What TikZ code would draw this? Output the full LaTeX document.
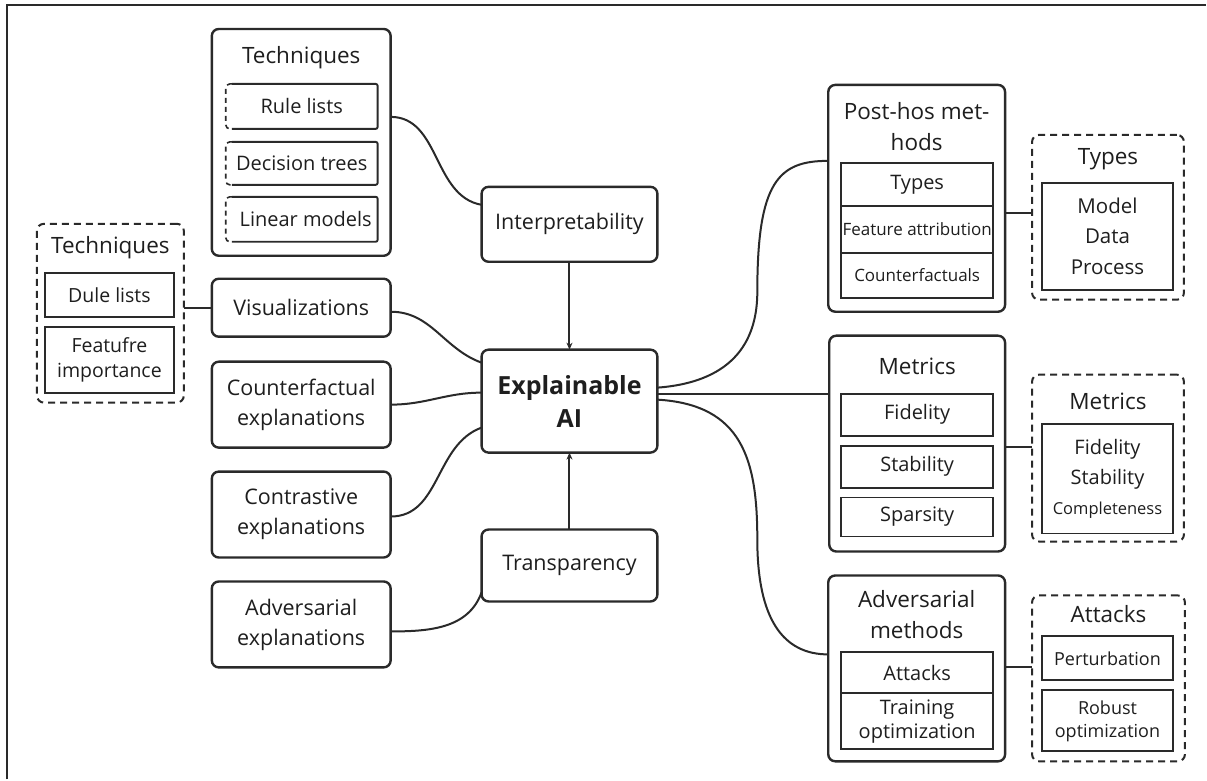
\documentclass[tikz,border=0pt]{standalone}
\usepackage{fontspec}
\setmainfont{Open Sans}
\usetikzlibrary{arrows.meta,calc}
\definecolor{lc}{HTML}{2A2A2A}
\definecolor{tc}{HTML}{1E1E1E}
\newcommand\fmain{\fontsize{21.5}{30}\selectfont}
\newcommand\ftitle{\fontsize{22.5}{31}\selectfont}
\newcommand\fitem{\fontsize{20}{30}\selectfont}
\newcommand\fsmall{\fontsize{17}{22}\selectfont}
\newcommand\fbig{\fontsize{25}{33}\selectfont\bfseries}
\begin{document}
\begin{tikzpicture}[x=1pt,y=-1pt,
  box/.style={draw=lc, line width=2.4pt, rounded corners=7pt, inner sep=0pt, outer sep=0pt, align=center, font=\fmain, text=tc},
  dbox/.style={draw=lc, line width=2pt, dash pattern=on 7pt off 5pt, rounded corners=7pt, inner sep=0pt, outer sep=0pt},
  ibox/.style={draw=lc, line width=1.9pt, inner sep=0pt, outer sep=0pt, align=center, font=\fitem, text=tc},
  hbox/.style={draw=none, inner sep=0pt, outer sep=0pt, align=center, font=\fitem, text=tc},
  ttl/.style={inner sep=0pt, align=center, font=\ftitle, text=tc},
  conn/.style={draw=lc, line width=2pt},
  arr/.style={conn, -{Stealth[length=7pt,width=6pt]}}
]
\path[fill=white] (0,0) rectangle (1207,780);
\draw[lc, line width=2.2pt] (7,780) -- (7,5) -- (1207,5);

% ---------- top techniques ----------
\node[box, minimum width=179pt, minimum height=227pt] (tech1) at (301.5,142.5) {};
\node[ttl] (tech1t) at (301.5,58) {Techniques};
\node[hbox, minimum width=152pt, minimum height=45pt] (r1) at (302,106.5) {Rule lists};
\node[hbox, minimum width=152pt, minimum height=43pt] (r2) at (302,163.5) {Decision trees};
\node[hbox, minimum width=152pt, minimum height=45pt] (r3) at (302,219.5) {\hspace*{8pt}Linear models};
\foreach \n in {r1,r2,r3}{
  \draw[lc, line width=1.9pt, rounded corners=2pt] ([xshift=6pt]\n.south west) -- (\n.south east) -- (\n.north east) -- ([xshift=6pt]\n.north west);
  \draw[lc, line width=1.6pt, dash pattern=on 5pt off 4pt, rounded corners=4pt] ([xshift=6pt]\n.north west) -- (\n.north west) -- (\n.south west) -- ([xshift=6pt]\n.south west);
}

% ---------- left techniques (dashed) ----------
\node[dbox, minimum width=147pt, minimum height=179pt] (tech2) at (110.5,313.5) {};
\node[ttl] (tech2t) at (110.5,248) {Techniques};
\node[ibox, font=\fontsize{19.5}{25}\selectfont, minimum width=129pt, minimum height=44pt] (dl) at (109.5,295) {Dule lists};
\node[ibox, font=\fontsize{19.5}{25}\selectfont, minimum width=129pt, minimum height=66pt] (fi) at (109.5,360) {Featufre\\importance};

% ---------- left column ----------
\node[box, minimum width=179pt, minimum height=58pt] (vis) at (301.5,308) {Visualizations};
\node[box, minimum width=179pt, minimum height=86pt] (cfe) at (301.5,405) {Counterfactual\\explanations};
\node[box, minimum width=179pt, minimum height=86pt] (cte) at (301.5,515) {Contrastive\\explanations};
\node[box, minimum width=179pt, minimum height=86pt] (ade) at (301.5,625) {Adversarial\\explanations};

% ---------- center ----------
\node[box, minimum width=176pt, minimum height=75pt] (interp) at (570,224.5) {Interpretability};
\node[box, font=\fbig, minimum width=176pt, minimum height=103pt] (eai) at (570,401.5) {Explainable\\AI};
\node[box, minimum width=176pt, minimum height=72pt] (transp) at (570,566) {Transparency};

% ---------- post-hoc ----------
\node[box, minimum width=177pt, minimum height=227pt] (posthos) at (917.5,198.5) {};
\node[ttl] (posthost) at (917.5,126.5) {Post-hos met-\\hods};
\node[ibox, minimum width=152pt, minimum height=43pt] (ph1) at (918,184.5) {Types};
\node[ibox, font=\fsmall, minimum width=152pt, minimum height=47pt] (ph2) at (918,229.5) {Feature attribution};
\node[ibox, font=\fsmall, minimum width=152pt, minimum height=45pt] (ph3) at (918,275.5) {Counterfactuals};

\node[dbox, minimum width=152pt, minimum height=165pt] (typesd) at (1109,217.5) {};
\node[ttl] (typesdt) at (1109,159) {Types};
\node[ibox, font=\fontsize{20.5}{30.5}\selectfont, minimum width=131pt, minimum height=107pt] (tl) at (1108.5,236.5) {Model\\Data\\Process};

% ---------- metrics ----------
\node[box, minimum width=176pt, minimum height=216pt] (metrics) at (918,444) {};
\node[ttl] (metricst) at (918,367) {Metrics};
\node[ibox, minimum width=152pt, minimum height=42pt] (m1) at (918,415) {Fidelity};
\node[ibox, minimum width=152pt, minimum height=42pt] (m2) at (918,467) {Stability};
\node[ibox, minimum width=152pt, minimum height=39pt] (m3) at (918,517.5) {Sparsity};

\node[dbox, minimum width=152pt, minimum height=167pt] (metricsd) at (1109,458.5) {};
\node[ttl] (metricsdt) at (1109,402) {Metrics};
\node[ibox, minimum width=131pt, minimum height=110pt] (ml) at (1108.5,479) {Fidelity\\Stability\\{\fontsize{16.5}{22}\selectfont Completeness}};

% ---------- adversarial ----------
\node[box, minimum width=177pt, minimum height=186pt] (adv) at (917.5,669) {};
\node[ttl] (advt) at (917.5,615) {Adversarial\\methods};
\node[ibox, minimum width=152pt, minimum height=41pt] (a1) at (918,673.5) {Attacks};
\node[ibox, font=\fontsize{20}{24}\selectfont, minimum width=152pt, minimum height=56pt] (a2) at (918,722) {Training\\optimization};

\node[dbox, minimum width=153pt, minimum height=166pt] (attd) at (1109.5,679) {};
\node[ttl] (attdt) at (1109.5,615) {Attacks};
\node[ibox, font=\fontsize{18}{23}\selectfont, minimum width=131pt, minimum height=44pt] (p1) at (1108.5,659) {Perturbation};
\node[ibox, font=\fontsize{18}{23}\selectfont, minimum width=131pt, minimum height=61pt] (p2) at (1108.5,721.5) {Robust\\optimization};

% ---------- connectors ----------
\draw[conn] ([yshift=25.5pt]tech1.east) to[out=0,in=170] ([yshift=19.5pt]interp.west);
\draw[conn] (tech2.east |- vis.west) -- (vis.west);
\draw[conn] ([yshift=-4pt]vis.east) to[out=0,in=160] ([yshift=38.5pt]eai.west);
\draw[conn] (cfe.east) to[out=0,in=180] ([yshift=8.5pt]eai.west);
\draw[conn] ([yshift=-2pt]cte.east) to[out=0,in=200] ([yshift=-26.5pt]eai.west);
\draw[conn] ([yshift=-7pt]ade.east) to[out=0,in=250] ([yshift=-27pt]transp.west);
\draw[arr] (interp) -- (eai);
\draw[arr] (transp) -- (eai);

\coordinate (bu) at (758,292);
\coordinate (bd) at (758,540);
\draw[conn] ([yshift=13.5pt]eai.east) .. controls +(80,-6) and +(0,45) .. (bu) .. controls +(0,-110) and +(-50,0) .. ([yshift=37.5pt]posthos.west);
\draw[conn] ([yshift=7.5pt]eai.east) -- ([yshift=50pt]metrics.west);
\draw[conn] ([yshift=1.5pt]eai.east) .. controls +(85,5) and +(0,-80) .. (bd) .. controls +(0,80) and +(-45,0) .. ([yshift=14pt]adv.west);

\draw[conn] ([yshift=-14.5pt]posthos.east) -- ([yshift=4.5pt]typesd.west);
\draw[conn] ([yshift=-3pt]metrics.east) -- ([yshift=11.5pt]metricsd.west);
\draw[conn] ([yshift=1pt]adv.east) -- ([yshift=11pt]attd.west);
\end{tikzpicture}
\end{document}
